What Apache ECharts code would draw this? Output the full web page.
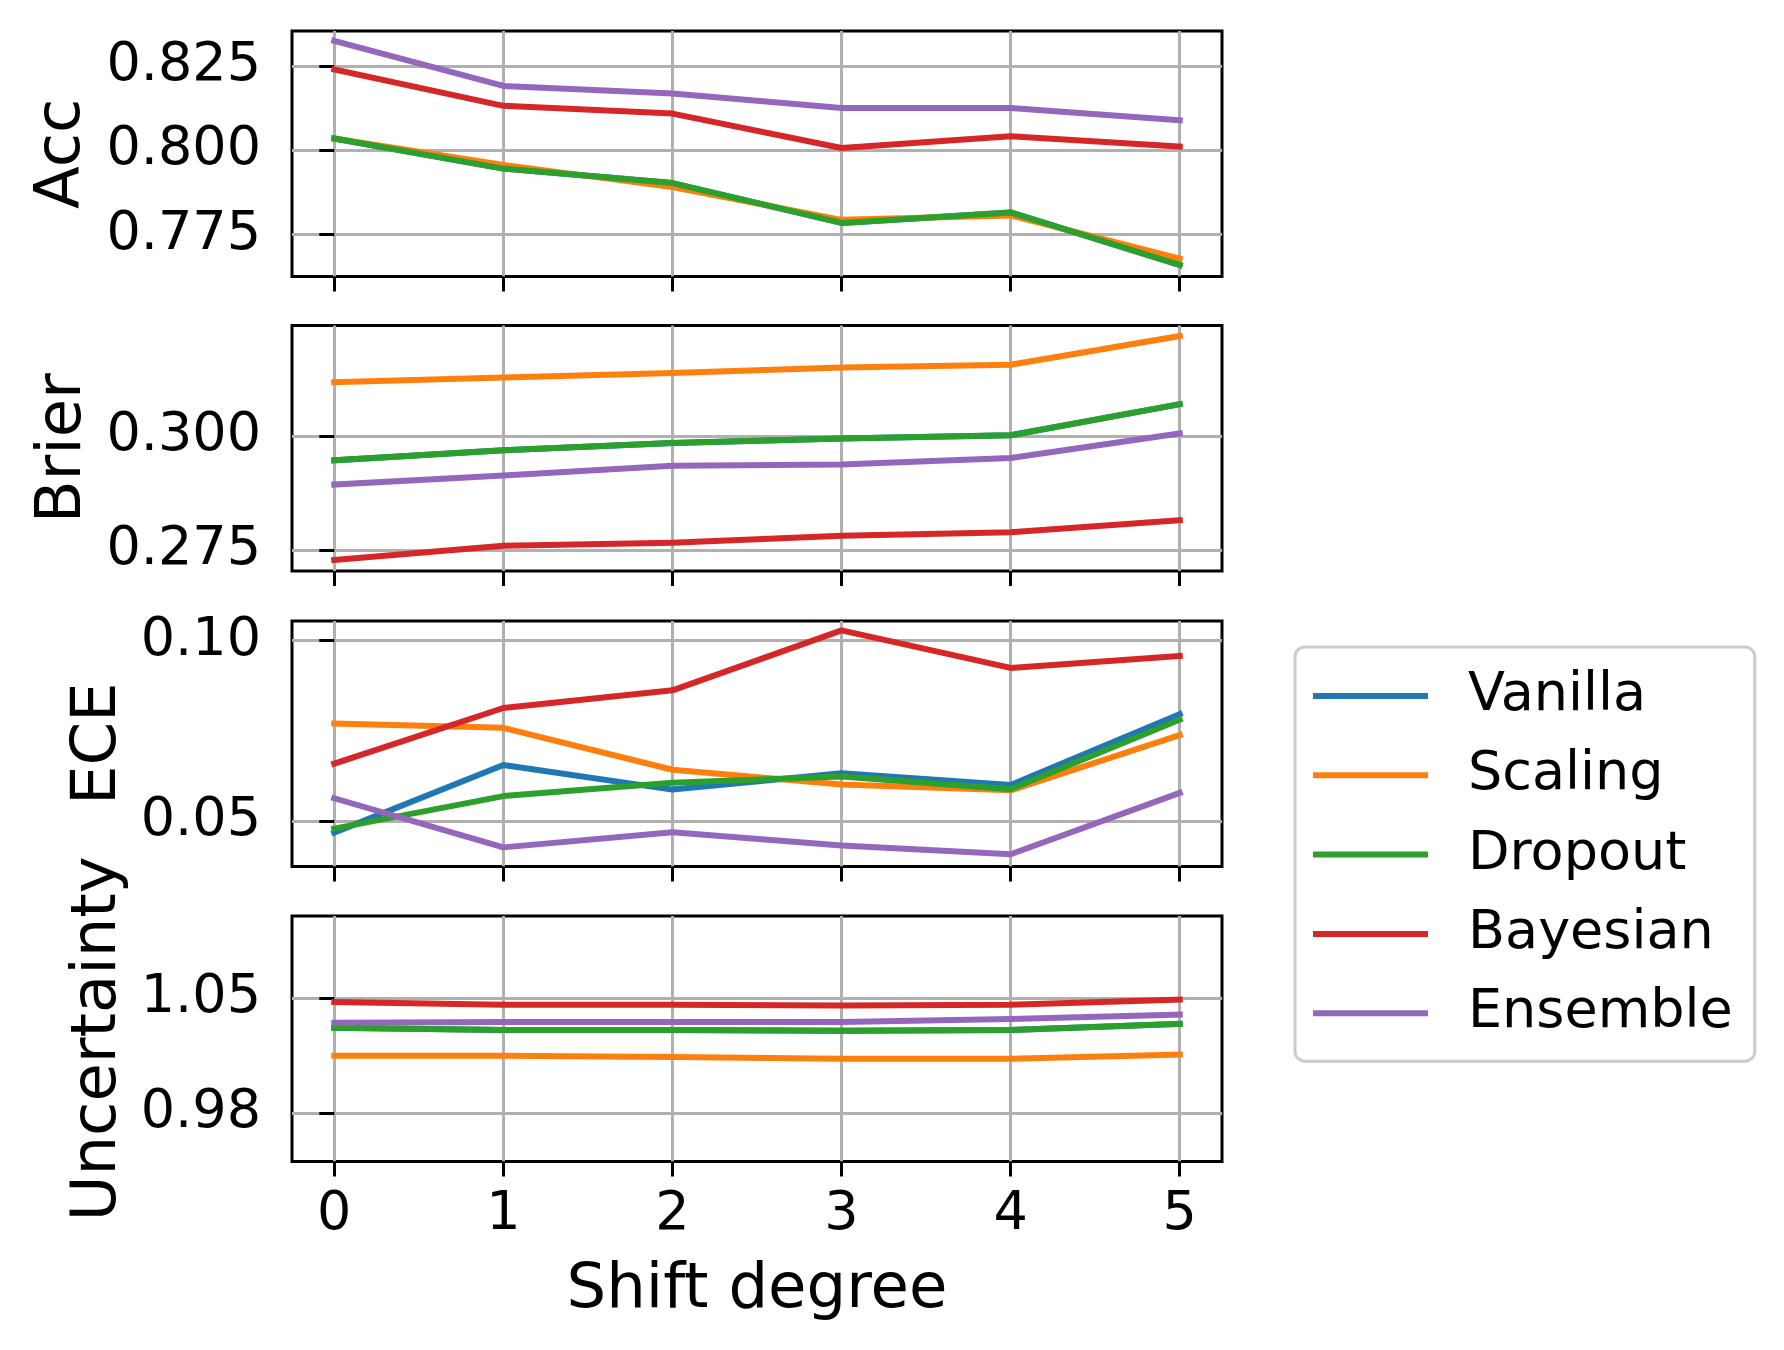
<!DOCTYPE html>
<html>
<head>
<meta charset="utf-8">
<script src="https://cdn.jsdelivr.net/npm/echarts@6/dist/echarts.min.js"></script>
<style>
html,body{margin:0;padding:0;background:#fff;}
#chart{width:1784px;height:1350px;}
</style>
</head>
<body>
<div id="chart"></div>
<script>
const shifts = [0, 1, 2, 3, 4, 5];
const methods = ['Vanilla', 'Scaling', 'Dropout', 'Bayesian', 'Ensemble'];
const colors = ['#1f77b4', '#ff7f0e', '#2ca02c', '#d62728', '#9467bd'];

// Acc
const accVanilla  = [0.8035, 0.7946, 0.7903, 0.7785, 0.7816, 0.7660];
const accScaling  = [0.8035, 0.7957, 0.7891, 0.7794, 0.7807, 0.7679];
const accDropout  = [0.8035, 0.7946, 0.7903, 0.7785, 0.7816, 0.7660];
const accBayesian = [0.8240, 0.8132, 0.8109, 0.8007, 0.8042, 0.8011];
const accEnsemble = [0.8325, 0.8191, 0.8169, 0.8126, 0.8126, 0.8089];
// Brier
const brierVanilla  = [0.2947, 0.2969, 0.2985, 0.2995, 0.3002, 0.3070];
const brierScaling  = [0.3118, 0.3128, 0.3138, 0.3150, 0.3156, 0.3219];
const brierDropout  = [0.2947, 0.2969, 0.2985, 0.2995, 0.3002, 0.3070];
const brierBayesian = [0.2729, 0.2760, 0.2767, 0.2782, 0.2790, 0.2816];
const brierEnsemble = [0.2894, 0.2914, 0.2935, 0.2938, 0.2952, 0.3006];
// ECE
const eceVanilla  = [0.0468, 0.0655, 0.0587, 0.0632, 0.0600, 0.0796];
const eceScaling  = [0.0770, 0.0758, 0.0642, 0.0601, 0.0585, 0.0738];
const eceDropout  = [0.0479, 0.0569, 0.0606, 0.0623, 0.0588, 0.0781];
const eceBayesian = [0.0659, 0.0813, 0.0862, 0.1028, 0.0924, 0.0957];
const eceEnsemble = [0.0563, 0.0427, 0.0469, 0.0432, 0.0408, 0.0578];
// Uncertainty
const uncVanilla  = [1.0319, 1.0305, 1.0305, 1.0301, 1.0305, 1.0342];
const uncScaling  = [1.0149, 1.0149, 1.0141, 1.0131, 1.0131, 1.0155];
const uncDropout  = [1.0319, 1.0305, 1.0305, 1.0301, 1.0305, 1.0342];
const uncBayesian = [1.0476, 1.0459, 1.0459, 1.0455, 1.0459, 1.0490];
const uncEnsemble = [1.0350, 1.0354, 1.0354, 1.0354, 1.0372, 1.0399];

// tick labels
const accTicks = [0.775, 0.800, 0.825];
const brierTicks = [0.275, 0.300];
const eceTicks = [0.05, 0.10];
const uncTicks = [0.98, 1.05];

const panels = [
  {name: 'Acc', data: [accVanilla, accScaling, accDropout, accBayesian, accEnsemble], ticks: accTicks, dec: 3, min: 0.7626, max: 0.8354, gap: 198},
  {name: 'Brier', data: [brierVanilla, brierScaling, brierDropout, brierBayesian, brierEnsemble], ticks: brierTicks, dec: 3, min: 0.2705, max: 0.3242, gap: 195},
  {name: 'ECE', data: [eceVanilla, eceScaling, eceDropout, eceBayesian, eceEnsemble], ticks: eceTicks, dec: 2, min: 0.0374, max: 0.1054, gap: 161},
  {name: 'Uncertainty', data: [uncVanilla, uncScaling, uncDropout, uncBayesian, uncEnsemble], ticks: uncTicks, dec: 2, min: 0.9505, max: 1.0999, gap: 158}
];

const FONT = 'DejaVu Sans';
const TICK_FS = 54, LABEL_FS = 62.5;
const tops = [31, 325.5, 621, 916];
const grids = [], xAxes = [], yAxes = [], series = [];

panels.forEach((p, i) => {
  grids.push({left: 292, top: tops[i], width: 930, height: 245.5, show: true,
    borderColor: '#000', borderWidth: 3, backgroundColor: 'transparent', containLabel: false});
  const last = i === panels.length - 1;
  xAxes.push({
    type: 'value', gridIndex: i, min: -0.25, max: 5.25,
    axisLine: {show: false},
    axisTick: {show: true, inside: false, length: 15, lineStyle: {color: '#000', width: 3}, customValues: shifts},
    axisLabel: {show: last, customValues: shifts, margin: 26, fontSize: TICK_FS, fontFamily: FONT, color: '#000',
      formatter: v => String(Math.round(v))},
    splitLine: {show: true, lineStyle: {color: '#b0b0b0', width: 3}},
    name: last ? 'Shift degree' : '', nameLocation: 'middle', nameGap: 98,
    nameTextStyle: {fontSize: LABEL_FS, fontFamily: FONT, color: '#000'}
  });
  yAxes.push({
    type: 'value', gridIndex: i, min: p.min, max: p.max,
    axisLine: {show: false},
    axisTick: {show: true, inside: false, length: 15, lineStyle: {color: '#000', width: 3}, customValues: p.ticks},
    axisLabel: {show: true, customValues: p.ticks, margin: 31, fontSize: TICK_FS, fontFamily: FONT, color: '#000',
      formatter: v => v.toFixed(p.dec)},
    splitLine: {show: true, lineStyle: {color: '#b0b0b0', width: 3}},
    name: p.name, nameLocation: 'middle', nameGap: p.gap, nameRotate: 90,
    nameTextStyle: {fontSize: LABEL_FS, fontFamily: FONT, color: '#000'}
  });
  methods.forEach((m, k) => {
    series.push({
      type: 'line', name: m, xAxisIndex: i, yAxisIndex: i,
      data: shifts.map((s, j) => [s, p.data[k][j]]),
      showSymbol: false, symbol: 'none',
      lineStyle: {color: colors[k], width: 6, join: 'round', cap: 'square'},
      itemStyle: {color: colors[k]},
      emphasis: {disabled: true},
      animation: false
    });
  });
});

const chart = echarts.init(document.getElementById('chart'), null, {renderer: 'canvas'});
chart.setOption({
  backgroundColor: '#fff',
  animation: false,
  color: colors,
  grid: grids,
  xAxis: xAxes,
  yAxis: yAxes,
  legend: {
    data: methods, orient: 'vertical', left: 1295, top: 647,
    padding: [22, 22, 21, 18], itemWidth: 115, itemHeight: 6, icon: 'rect',
    itemGap: 25.3, borderColor: '#cccccc', borderWidth: 3, borderRadius: 10,
    backgroundColor: 'rgba(255,255,255,0.8)',
    textStyle: {fontSize: TICK_FS, lineHeight: 54, fontFamily: FONT, color: '#000', padding: [0, 0, 0, 35]}
  },
  series: series
});
</script>
</body>
</html>
